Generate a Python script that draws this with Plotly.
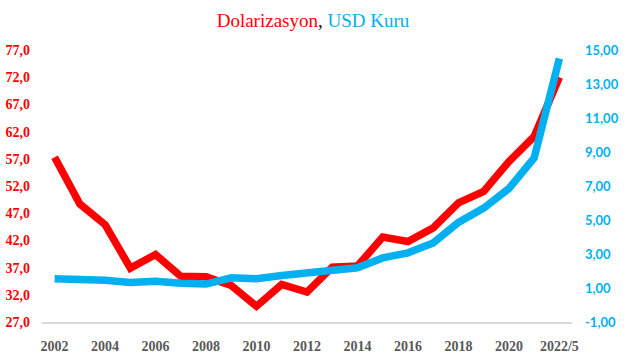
import plotly.graph_objects as go

categories = ["2002", "2003", "2004", "2005", "2006", "2007", "2008", "2009", "2010", "2011",
              "2012", "2013", "2014", "2015", "2016", "2017", "2018", "2019", "2020", "2021", "2022/5"]
dolarizasyon = [57.3, 48.7, 44.9, 36.9, 39.4, 35.4, 35.3, 33.7, 29.9, 33.9,
                32.5, 37.1, 37.3, 42.6, 41.8, 44.3, 48.9, 51.0, 56.5, 61.1, 72.0]
usd_kuru = [1.54, 1.52, 1.46, 1.32, 1.40, 1.28, 1.23, 1.60, 1.54, 1.74,
            1.88, 1.99, 2.19, 2.77, 3.07, 3.65, 4.86, 5.70, 6.85, 8.65, 14.50]

x_tick_vals = ["2002", "2004", "2006", "2008", "2010", "2012", "2014", "2016", "2018", "2020", "2022/5"]
left_ticks = [27, 32, 37, 42, 47, 52, 57, 62, 67, 72, 77]
left_tick_labels = ["27,0", "32,0", "37,0", "42,0", "47,0", "52,0", "57,0", "62,0", "67,0", "72,0", "77,0"]
right_ticks = [-1, 1, 3, 5, 7, 9, 11, 13, 15]
right_tick_labels = ["-1,00", "1,00", "3,00", "5,00", "7,00", "9,00", "11,00", "13,00", "15,00"]

RED = "#FF0000"
BLUE = "#00B0F0"

fig = go.Figure()
fig.add_trace(go.Scatter(x=categories, y=dolarizasyon, mode="lines", name="Dolarizasyon",
                         line=dict(color=RED, width=7.5), yaxis="y"))
fig.add_trace(go.Scatter(x=categories, y=usd_kuru, mode="lines", name="USD Kuru",
                         line=dict(color=BLUE, width=7.5), yaxis="y2"))

fig.update_layout(
    width=626, height=358, autosize=False,
    margin=dict(l=42, r=54, t=50, b=36, autoexpand=False),
    paper_bgcolor="white", plot_bgcolor="white",
    showlegend=False,
    title=dict(
        text=f"<span style='color:{RED}'>Dolarizasyon</span><span style='color:#000000'>, </span>"
             f"<span style='color:{BLUE}'>USD Kuru</span>",
        x=0.5, xref="container", xanchor="center",
        y=1 - 20 / 358, yref="container", yanchor="middle",
        font=dict(family="Liberation Serif", size=19),
    ),
    xaxis=dict(
        type="category", categoryorder="array", categoryarray=categories,
        range=[-0.5, 20.5], automargin=False,
        tickmode="array", tickvals=x_tick_vals, ticktext=x_tick_vals,
        showgrid=False, zeroline=False,
        showline=True, linecolor="#D9D9D9", linewidth=1.5,
        ticks="", ticklabelstandoff=10,
        tickfont=dict(family="Liberation Serif", size=14, color="#595959", weight="bold"),
    ),
    yaxis=dict(
        range=[27, 77], tickmode="array", tickvals=left_ticks, ticktext=left_tick_labels,
        showgrid=False, zeroline=False, showline=False, ticks="", automargin=False,
        ticklabelstandoff=11,
        tickfont=dict(family="Liberation Serif", size=14, color=RED, weight="bold"),
    ),
    yaxis2=dict(
        range=[-1, 15], overlaying="y", side="right", automargin=False,
        tickmode="array", tickvals=right_ticks, ticktext=right_tick_labels,
        showgrid=False, zeroline=False, showline=False, ticks="",
        ticklabelstandoff=12,
        tickfont=dict(family="Lato", size=13, color=BLUE, weight="bold"),
    ),
)

fig.write_html("out.html", config={"displayModeBar": False},
               post_script="document.body.style.margin='0';")
